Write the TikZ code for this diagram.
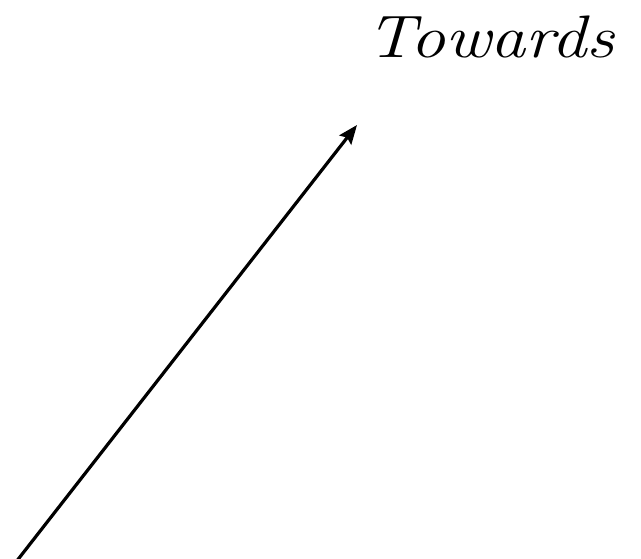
\documentclass[tikz,border=0pt]{standalone}
\usetikzlibrary{arrows.meta}
\begin{document}
\begin{tikzpicture}[x=1pt,y=-1pt,
  arrowline/.style={line width=3.2pt,-{Stealth[length=19pt,width=15pt,inset=3pt]}},
  label/.style={font=\fontsize{60}{64}\selectfont\itshape,inner sep=0pt,anchor=base west,xscale=1.17}]
\useasboundingbox (0,0) rectangle (641,559);
\coordinate (start) at (16,562);
\coordinate (tip) at (357,125);
\draw[arrowline] (start) -- (tip);
\node[label] (towards) at (366,58) {Towards};
\end{tikzpicture}
\end{document}
